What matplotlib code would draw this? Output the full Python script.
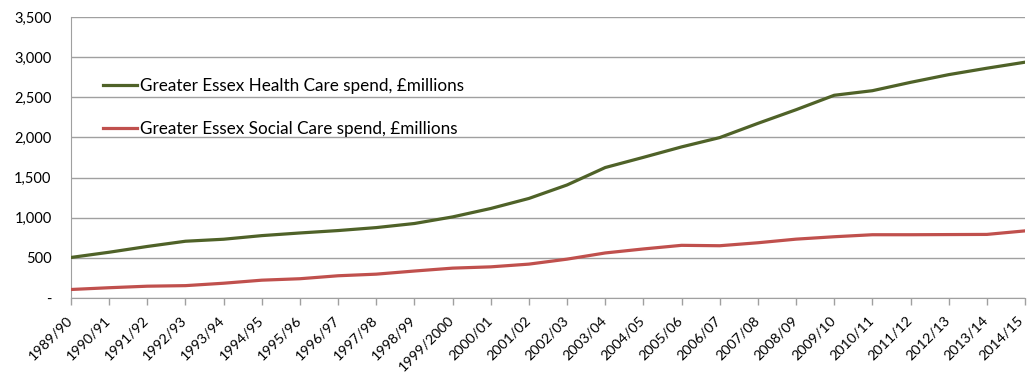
import matplotlib
matplotlib.use("Agg")
import matplotlib.pyplot as plt
from matplotlib.ticker import FuncFormatter
from matplotlib.transforms import ScaledTranslation

years = ["1989/90", "1990/91", "1991/92", "1992/93", "1993/94", "1994/95", "1995/96",
         "1996/97", "1997/98", "1998/99", "1999/2000", "2000/01", "2001/02", "2002/03",
         "2003/04", "2004/05", "2005/06", "2006/07", "2007/08", "2008/09", "2009/10",
         "2010/11", "2011/12", "2012/13", "2013/14", "2014/15"]
health = [505, 570, 642, 707, 732, 777, 810, 840, 877, 928, 1010, 1115, 1240, 1408,
          1625, 1752, 1882, 1998, 2175, 2345, 2525, 2582, 2686, 2782, 2862, 2937]
social = [106, 128, 147, 154, 184, 222, 240, 277, 297, 336, 372, 388, 422, 484,
          561, 611, 656, 651, 688, 733, 763, 788, 788, 790, 792, 836]

plt.rcParams['font.family'] = ['Lato', 'DejaVu Sans']

fig = plt.figure(figsize=(10.27, 3.74), dpi=100)
ax = fig.add_axes([71/1027, 1-298/374, (1025-71)/1027, (298-17)/374])

x = list(range(len(years)))
ax.plot(x, health, color='#4F6228', lw=2.3, label='Greater Essex Health Care spend, £millions',
        solid_joinstyle='round', zorder=3)
ax.plot(x, social, color='#C0504D', lw=2.3, label='Greater Essex Social Care spend, £millions',
        solid_joinstyle='round', zorder=3)

ax.set_xlim(0, len(years)-1)
ax.set_ylim(0, 3500)
ax.set_yticks(range(0, 3501, 500))
ax.yaxis.set_major_formatter(FuncFormatter(lambda v, p: '-' if v == 0 else f'{int(v):,}'))
ax.grid(axis='y', color='#A0A0A0', lw=1.0)
ax.set_axisbelow(True)

ax.set_xticks(x)
ax.set_xticklabels(years, rotation=45, ha='right', va='top', rotation_mode='anchor')
ax.tick_params(axis='x', length=5, color='#A0A0A0', width=1, labelsize=10.3, pad=6.5)
ax.tick_params(axis='y', length=0, labelsize=10.5, pad=14)
labs = ax.get_xticklabels()
for i, lab in enumerate(labs):
    dx = -8 if i == len(labs) - 1 else -5
    lab.set_transform(lab.get_transform() + ScaledTranslation(dx/100, 0, fig.dpi_scale_trans))

for s in ['top', 'right']:
    ax.spines[s].set_visible(False)
ax.spines['left'].set_color('#A0A0A0')
ax.spines['bottom'].set_color('#A0A0A0')

leg = ax.legend(loc='upper left', bbox_to_anchor=(0.0335, 0.782), frameon=False,
                fontsize=12.3, handlelength=2.0, handletextpad=0.18, labelspacing=1.55,
                borderaxespad=0, borderpad=0)

fig.savefig('out.png', dpi=100)
